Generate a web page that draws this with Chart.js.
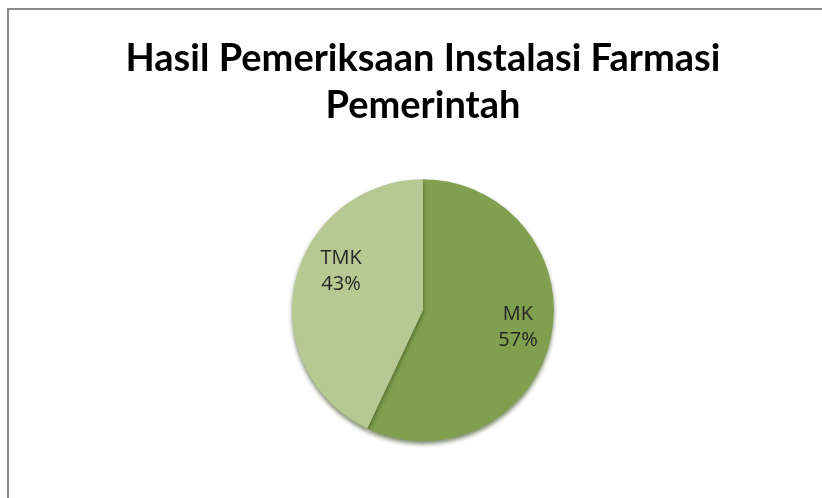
<!DOCTYPE html>
<html>
<head>
<meta charset="utf-8">
<script src="https://cdn.jsdelivr.net/npm/chart.js@4.4.1/dist/chart.umd.min.js"></script>
<style>
    html, body { margin: 0; padding: 0; background: #ffffff; }
    #wrap { position: relative; width: 822px; height: 498px; }
    #frame {
        position: absolute; left: 7px; top: 8px; right: 0; bottom: 0;
        border-top: 2px solid #8a8a8a; border-left: 2px solid #8a8a8a;
        pointer-events: none;
    }
    canvas { position: absolute; left: 0; top: 0; }
</style>
</head>
<body>
<div id="wrap">
    <canvas id="pieChart" width="822" height="498"></canvas>
    <div id="frame"></div>
</div>
<script>
// Chart data
const titleLines = ['Hasil Pemeriksaan Instalasi Farmasi', 'Pemerintah'];
const categories = ['MK', 'TMK'];
const percentages = [57, 43];
const sliceColors = ['#809f4f', '#b6c993'];

// Small nudges so labels sit where the original placed them (px)
const labelNudge = [[3, -3], [10, -18]];

// Draws "name / pct%" labels inside each slice
const sliceLabels = {
    id: 'sliceLabels',
    afterDatasetsDraw(chart) {
        const ctx = chart.ctx;
        const meta = chart.getDatasetMeta(0);
        ctx.save();
        ctx.font = '20px "Open Sans", sans-serif';
        ctx.fillStyle = '#262626';
        ctx.textAlign = 'center';
        ctx.textBaseline = 'middle';
        meta.data.forEach((arc, i) => {
            const mid = (arc.startAngle + arc.endAngle) / 2;
            const r = arc.outerRadius * 0.72;
            const x = arc.x + Math.cos(mid) * r + labelNudge[i][0];
            const y = arc.y + Math.sin(mid) * r + labelNudge[i][1];
            ctx.fillText(categories[i], x, y - 13);
            ctx.fillText(percentages[i] + '%', x, y + 13);
        });
        ctx.restore();
    }
};

// Soft shadow under the pie
const pieShadow = {
    id: 'pieShadow',
    beforeDatasetsDraw(chart) {
        const ctx = chart.ctx;
        ctx.save();
        ctx.shadowColor = 'rgba(40, 60, 10, 0.6)';
        ctx.shadowBlur = 4;
        ctx.shadowOffsetY = 3;
    },
    afterDatasetsDraw(chart) {
        chart.ctx.restore();
    }
};

const ctx = document.getElementById('pieChart').getContext('2d');
new Chart(ctx, {
    type: 'pie',
    data: {
        labels: categories,
        datasets: [{
            data: percentages,
            backgroundColor: sliceColors,
            borderWidth: 0
        }]
    },
    options: {
        responsive: false,
        animation: false,
        layout: {
            padding: { top: 8, bottom: 57, left: 24, right: 0 }
        },
        plugins: {
            legend: { display: false },
            tooltip: { enabled: false },
            title: {
                display: true,
                text: titleLines,
                color: '#000000',
                font: { family: 'Lato', size: 38, weight: 'bold', lineHeight: 1.24 },
                padding: { top: 27, bottom: 50 }
            }
        }
    },
    plugins: [pieShadow, sliceLabels]
});
</script>
</body>
</html>
